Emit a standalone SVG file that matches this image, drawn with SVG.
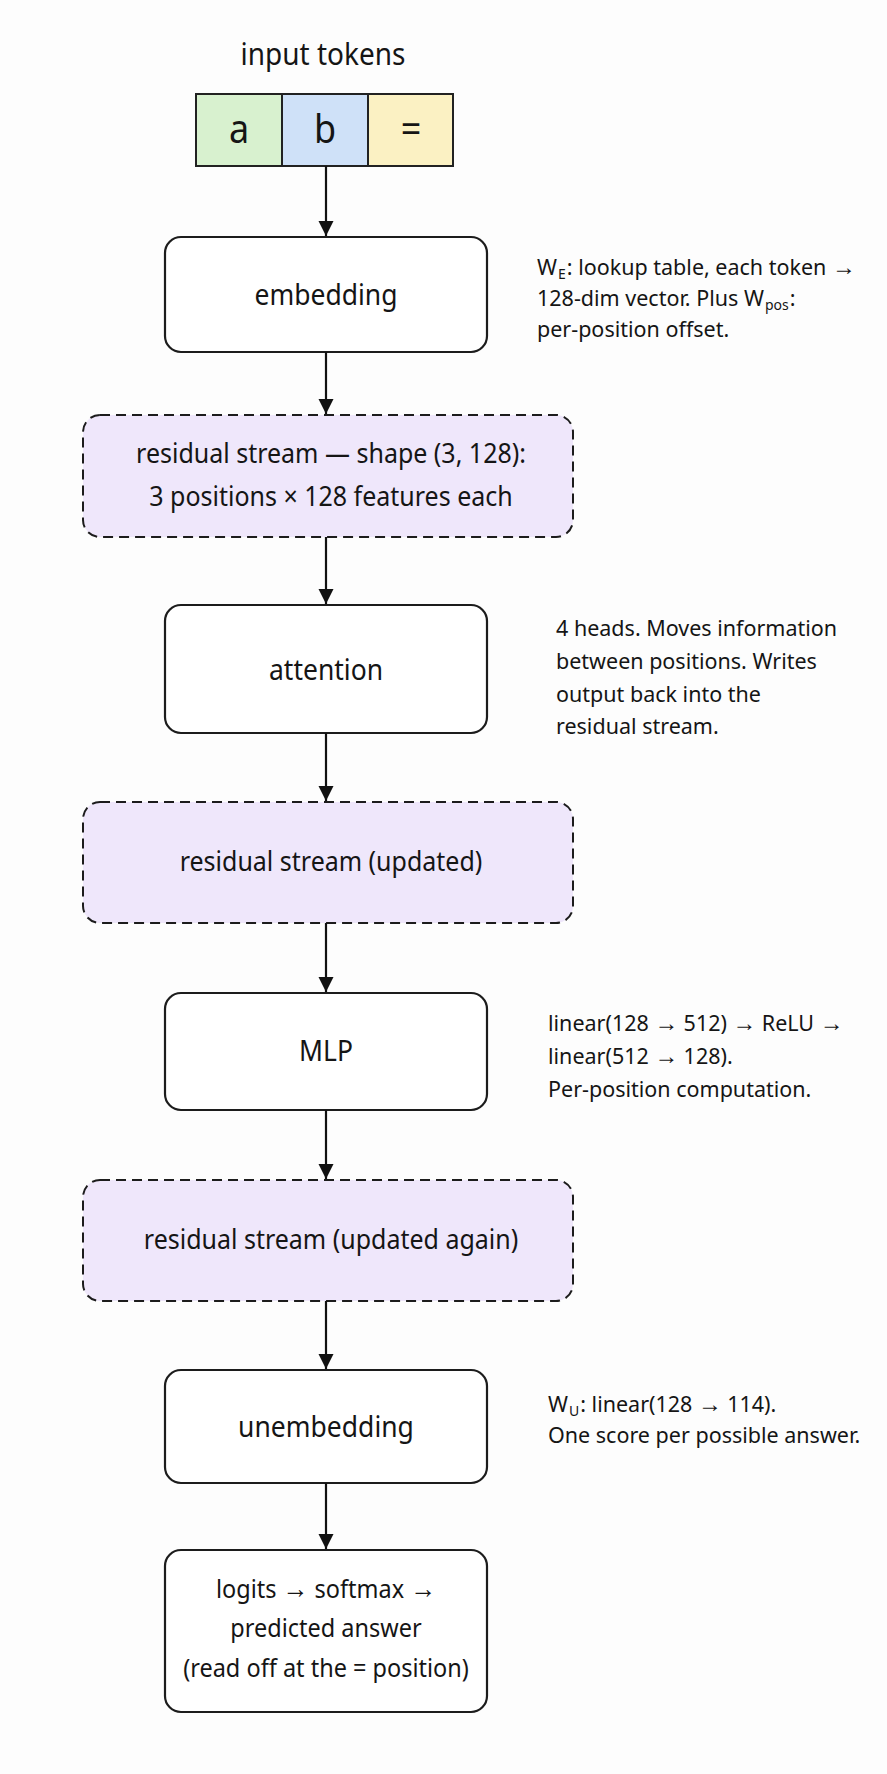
<svg xmlns="http://www.w3.org/2000/svg" width="887" height="1774" viewBox="0 0 887 1774">
  <defs>
    <marker id="arrow" viewBox="0 0 15 16" refX="15" refY="8" markerWidth="15" markerHeight="16" markerUnits="userSpaceOnUse" orient="auto">
      <path d="M0,0.5 L15,8 L0,15.5 Z" fill="#111"/>
    </marker>
    <style>
      text { font-family: "Noto Sans", "Open Sans", "Liberation Sans", sans-serif; fill: #151515; }
      .title { font-size: 28px; text-anchor: middle; }
      .tok { font-size: 36px; text-anchor: middle; }
      .label { font-size: 26.5px; text-anchor: middle; }
      .rlabel { font-size: 25px; text-anchor: middle; }
      .flabel { font-size: 23.5px; text-anchor: middle; }
      .note { font-size: 21.5px; }
      .sub { font-size: 14px; }
      .arr { font-size: 1.1em; }
      .cell { stroke: #222; stroke-width: 2; }
      .box { fill: #ffffff; stroke: #1c1c1c; stroke-width: 2.2; }
      .stream { fill: #efe7fb; stroke: #1c1c1c; stroke-width: 2; stroke-dasharray: 10 6; }
      .conn { stroke: #111; stroke-width: 2.2; fill: none; marker-end: url(#arrow); }
    </style>
  </defs>

  <rect x="0" y="0" width="887" height="1774" fill="#fdfdfd"/>

  <!-- input tokens -->
  <g id="input-tokens">
    <text class="title" transform="translate(323,65) scale(1,1.12)">input tokens</text>
    <rect class="cell" x="196" y="94" width="86" height="72" fill="#d8f1cf"/>
    <rect class="cell" x="282" y="94" width="86" height="72" fill="#cfe1f8"/>
    <rect class="cell" x="368" y="94" width="85" height="72" fill="#fbf1c3"/>
    <text class="tok" transform="translate(239,143) scale(1,1.12)">a</text>
    <text class="tok" transform="translate(325,143) scale(1,1.12)">b</text>
    <text class="tok" transform="translate(411,143) scale(1,1.12)">=</text>
  </g>

  <!-- embedding -->
  <g id="embedding">
    <rect class="box" x="165" y="237" width="322" height="115" rx="16"/>
    <text class="label" transform="translate(326,305) scale(1,1.12)">embedding</text>
  </g>
  <g id="embedding-note">
    <text class="note" x="537" y="275">W<tspan class="sub" dx="1" dy="3.5">E</tspan><tspan dx="1" dy="-3.5">: lookup table, each token </tspan><tspan class="arr">→</tspan></text>
    <text class="note" x="537" y="306">128-dim vector. Plus W<tspan class="sub" dx="1" dy="3.5">pos</tspan><tspan dx="1" dy="-3.5">:</tspan></text>
    <text class="note" x="537" y="337">per-position offset.</text>
  </g>

  <!-- residual stream after embedding -->
  <g id="residual-1">
    <rect class="stream" x="83" y="415" width="490" height="122" rx="17"/>
    <text class="rlabel" transform="translate(331,463) scale(1,1.12)">residual stream — shape (3, 128):</text>
    <text class="rlabel" transform="translate(331,506) scale(1,1.12)">3 positions × 128 features each</text>
  </g>

  <!-- attention -->
  <g id="attention">
    <rect class="box" x="165" y="605" width="322" height="128" rx="16"/>
    <text class="label" transform="translate(326,680) scale(1,1.12)">attention</text>
  </g>
  <g id="attention-note">
    <text class="note" x="556" y="636">4 heads. Moves information</text>
    <text class="note" x="556" y="669">between positions. Writes</text>
    <text class="note" x="556" y="702">output back into the</text>
    <text class="note" x="556" y="734">residual stream.</text>
  </g>

  <!-- residual stream after attention -->
  <g id="residual-2">
    <rect class="stream" x="83" y="802" width="490" height="121" rx="17"/>
    <text class="rlabel" transform="translate(331,871) scale(1,1.12)">residual stream (updated)</text>
  </g>

  <!-- MLP -->
  <g id="mlp">
    <rect class="box" x="165" y="993" width="322" height="117" rx="16"/>
    <text class="label" transform="translate(326,1061) scale(1,1.12)">MLP</text>
  </g>
  <g id="mlp-note">
    <text class="note" x="548" y="1031">linear(128 <tspan class="arr">→</tspan> 512) <tspan class="arr">→</tspan> ReLU <tspan class="arr">→</tspan></text>
    <text class="note" x="548" y="1064">linear(512 <tspan class="arr">→</tspan> 128).</text>
    <text class="note" x="548" y="1097">Per-position computation.</text>
  </g>

  <!-- residual stream after MLP -->
  <g id="residual-3">
    <rect class="stream" x="83" y="1180" width="490" height="121" rx="17"/>
    <text class="rlabel" transform="translate(331,1249) scale(1,1.12)">residual stream (updated again)</text>
  </g>

  <!-- unembedding -->
  <g id="unembedding">
    <rect class="box" x="165" y="1370" width="322" height="113" rx="16"/>
    <text class="label" transform="translate(326,1437) scale(1,1.12)">unembedding</text>
  </g>
  <g id="unembedding-note">
    <text class="note" x="548" y="1412">W<tspan class="sub" dx="1" dy="3.5">U</tspan><tspan dx="1" dy="-3.5">: linear(128 </tspan><tspan class="arr">→</tspan> 114).</text>
    <text class="note" x="548" y="1443">One score per possible answer.</text>
  </g>

  <!-- output -->
  <g id="output">
    <rect class="box" x="165" y="1550" width="322" height="162" rx="16"/>
    <text class="flabel" transform="translate(326,1598) scale(1,1.12)">logits <tspan class="arr">→</tspan> softmax <tspan class="arr">→</tspan></text>
    <text class="flabel" transform="translate(326,1637) scale(1,1.12)">predicted answer</text>
    <text class="flabel" transform="translate(326,1677) scale(1,1.12)">(read off at the = position)</text>
  </g>

  <!-- connectors -->
  <g id="connectors">
    <line class="conn" x1="326" y1="166" x2="326" y2="236"/>
    <line class="conn" x1="326" y1="352" x2="326" y2="414"/>
    <line class="conn" x1="326" y1="537" x2="326" y2="604"/>
    <line class="conn" x1="326" y1="733" x2="326" y2="801"/>
    <line class="conn" x1="326" y1="923" x2="326" y2="992"/>
    <line class="conn" x1="326" y1="1110" x2="326" y2="1179"/>
    <line class="conn" x1="326" y1="1301" x2="326" y2="1369"/>
    <line class="conn" x1="326" y1="1483" x2="326" y2="1549"/>
  </g>
</svg>
